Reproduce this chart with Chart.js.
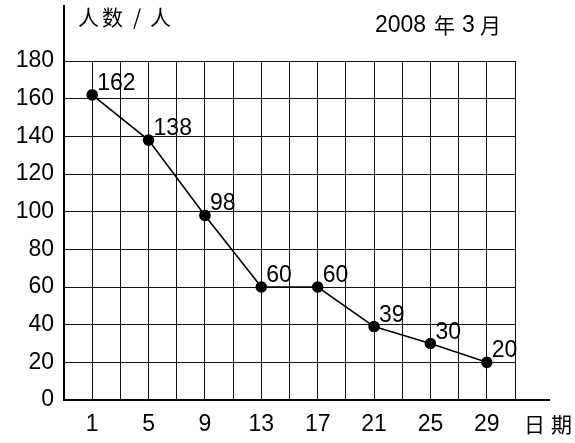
<!DOCTYPE html>
<html>
<head>
<meta charset="utf-8">
<script src="https://cdn.jsdelivr.net/npm/chart.js@4.4.0/dist/chart.umd.min.js"></script>
<style>
  html, body { margin: 0; padding: 0; background: #fff; }
  #wrap { width: 575px; height: 443px; }
</style>
</head>
<body>
<div id="wrap"><canvas id="c" width="575" height="443"></canvas></div>
<script>
// 2008年3月 日期 / 人数
const days = [1, 5, 9, 13, 17, 21, 25, 29];
const people = [162, 138, 98, 60, 60, 39, 30, 20];
const yTicks = [0, 20, 40, 60, 80, 100, 120, 140, 160, 180];

const FONT = '"Liberation Sans", Arial, sans-serif';
const CJK = '"Noto Sans CJK SC", sans-serif';

// 轴线延长、标题、数据标签
const decor = {
    id: 'decor',
    afterDraw(chart) {
        const { ctx, chartArea: a } = chart;
        const xs = chart.scales.x, ys = chart.scales.y;
        ctx.save();
        ctx.strokeStyle = '#000';
        ctx.lineWidth = 2;
        ctx.beginPath();
        ctx.moveTo(a.left, 5);
        ctx.lineTo(a.left, a.bottom);
        ctx.lineTo(550, a.bottom);
        ctx.stroke();

        ctx.fillStyle = '#000';
        ctx.textBaseline = 'middle';
        ctx.textAlign = 'left';
        ctx.font = '21px ' + CJK;
        ctx.fillText('人', 78, 17);
        ctx.fillText('数', 102, 17);
        ctx.fillText('/', 133, 17);
        ctx.fillText('人', 150, 17);
        ctx.font = '23px ' + FONT;
        ctx.fillText('2008', 375, 26);
        ctx.font = '21px ' + CJK;
        ctx.fillText('年', 434, 25);
        ctx.font = '23px ' + FONT;
        ctx.fillText('3', 462, 26);
        ctx.font = '21px ' + CJK;
        ctx.fillText('月', 480, 25);
        ctx.fillText('日', 524, 424);
        ctx.fillText('期', 551, 424);

        ctx.font = '23px ' + FONT;
        ctx.textBaseline = 'alphabetic';
        days.forEach((d, i) => {
            const px = xs.getPixelForValue(d);
            const py = ys.getPixelForValue(people[i]);
            ctx.fillText(String(people[i]), px + 5, py - 5);
        });
        ctx.restore();
    }
};

new Chart(document.getElementById('c').getContext('2d'), {
    type: 'line',
    data: {
        datasets: [{
            data: days.map((d, i) => ({ x: d, y: people[i] })),
            borderColor: '#000',
            backgroundColor: '#000',
            borderWidth: 1.6,
            pointRadius: 5,
            pointBackgroundColor: '#000',
            tension: 0
        }]
    },
    options: {
        responsive: false,
        animation: false,
        layout: { padding: { top: 61, right: 60, left: 0, bottom: 0 } },
        plugins: { legend: { display: false }, tooltip: { enabled: false } },
        scales: {
            x: {
                type: 'linear',
                min: -1,
                max: 31,
                afterBuildTicks(scale) {
                    const t = [];
                    for (let v = -1; v <= 31; v += 2) t.push({ value: v });
                    scale.ticks = t;
                },
                afterFit(scale) { scale.height = 43; },
                grid: { color: '#111', lineWidth: 1, drawTicks: false },
                border: { display: false },
                ticks: {
                    color: '#000',
                    font: { size: 23, family: FONT },
                    padding: 11,
                    maxRotation: 0,
                    autoSkip: false,
                    callback: v => days.includes(v) ? String(v) : ''
                }
            },
            y: {
                min: 0,
                max: 180,
                afterBuildTicks(scale) {
                    scale.ticks = yTicks.map(v => ({ value: v }));
                },
                afterFit(scale) { scale.width = 64; },
                grid: { color: '#111', lineWidth: 1, drawTicks: false },
                border: { display: false },
                ticks: {
                    color: '#000',
                    font: { size: 23, family: FONT },
                    padding: 10
                }
            }
        }
    },
    plugins: [decor]
});
</script>
</body>
</html>
